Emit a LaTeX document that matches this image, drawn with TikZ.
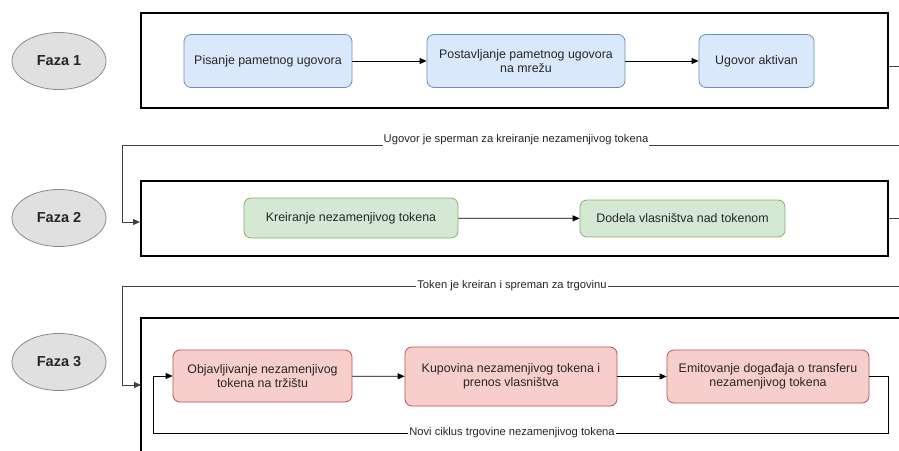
\documentclass[tikz,border=0pt]{standalone}
\usepackage{fontspec}
\setmainfont{Liberation Sans}
\usetikzlibrary{arrows.meta,shapes.geometric}
\definecolor{bfill}{HTML}{DAE8FC}\definecolor{bline}{HTML}{6C8EBF}
\definecolor{gfill}{HTML}{D5E8D4}\definecolor{gline}{HTML}{82B366}
\definecolor{rfill}{HTML}{F8CECC}\definecolor{rline}{HTML}{B85450}
\definecolor{efill}{HTML}{E0E0E0}\definecolor{eline}{HTML}{8A8A8A}
\definecolor{txt}{HTML}{262626}
\tikzset{
  phase/.style={draw=eline, fill=efill, ellipse, minimum width=94pt, minimum height=57pt, font=\bfseries\fontsize{14.5}{16}\selectfont, line width=0.8pt, text=txt},
  stepbox/.style={rounded corners=7pt, line width=0.8pt, align=center, font=\fontsize{12.4}{14.5}\selectfont, inner sep=0pt, text=txt},
  bluebox/.style={stepbox, draw=bline, fill=bfill},
  greenbox/.style={stepbox, draw=gline, fill=gfill},
  redbox/.style={stepbox, draw=rline, fill=rfill},
  frame/.style={draw=black, line width=2pt},
  conn/.style={draw=black, line width=0.8pt, -{Triangle[length=7pt,width=6pt]}},
  plain/.style={draw=black!75, line width=0.8pt},
  lbl/.style={fill=white, inner sep=1pt, font=\fontsize{11.2}{13}\selectfont, text=txt}
}
\begin{document}
\begin{tikzpicture}[x=1pt,y=-1pt]
\useasboundingbox (0,0) rectangle (899,450);
\clip (0,0) rectangle (899,450);
\fill[white] (0,0) rectangle (899,450);
% phase ellipses
\node[phase] (f1) at (59,61) {Faza 1};
\node[phase] (f2) at (59,218) {Faza 2};
\node[phase] (f3) at (59,362) {Faza 3};
% frames
\node[frame, minimum width=747pt, minimum height=95pt, inner sep=0pt] (p1) at (514.5,60.5) {};
\node[frame, minimum width=747pt, minimum height=75pt, inner sep=0pt] (p2) at (514.5,218.5) {};
\draw[frame] (141,460) -- (141,318) -- (910,318);
\coordinate (p3w) at (141,385);
% phase 1 steps
\node[bluebox, minimum width=168pt, minimum height=53pt] (a1) at (268,61) {Pisanje pametnog ugovora};
\node[bluebox, minimum width=198pt, minimum height=53pt] (a2) at (526,61) {Postavljanje pametnog ugovora\\na mrežu};
\node[bluebox, minimum width=115pt, minimum height=53pt] (a3) at (756.5,61) {Ugovor aktivan};
\draw[conn] (a1) -- (a2);
\draw[conn] (a2) -- (a3);
% phase 2 steps
\node[greenbox, minimum width=214pt, minimum height=40pt] (b1) at (351,218) {Kreiranje nezamenjivog tokena};
\node[greenbox, minimum width=205pt, minimum height=37pt] (b2) at (682.5,218.5) {Dodela vlasništva nad tokenom};
\draw[conn] (b1) -- (b2);
% phase 3 steps
\node[redbox, minimum width=179pt, minimum height=52pt] (c1) at (262.5,376) {Objavljivanje nezamenjivog\\tokena na tržištu};
\node[redbox, minimum width=212pt, minimum height=59pt] (c2) at (511,376.5) {Kupovina nezamenjivog tokena i\\prenos vlasništva};
\node[redbox, minimum width=202pt, minimum height=53pt] (c3) at (768,376.5) {Emitovanje događaja o transferu\\nezamenjivog tokena};
\draw[conn] (c1) -- (c2);
\draw[conn] (c2) -- (c3);
% transitions between phases
\coordinate (o1) at (910,66);
\coordinate (o2) at (910,218);
\draw[plain] (p1.east |- 0,66) -- (o1);
\draw[plain] (p2.east |- 0,218) -- (o2);
\draw[conn, draw=black!75] (910,145) -- (122,145) -- (122,222) -- (p2.west |- 0,222);
\node[lbl] (l1) at (516,140) {Ugovor je sperman za kreiranje nezamenjivog tokena};
\draw[conn, draw=black!75] (910,286) -- (122,286) -- (122,385) -- (p3w);
\node[lbl] (l2) at (512,286) {Token je kreiran i spreman za trgovinu};
% loop
\draw[conn] (c3.east) -- (888,376.5) -- (888,433) -- (153,433) -- (153,376) -- (c1.west);
\node[lbl] (l3) at (512,433) {Novi ciklus trgovine nezamenjivog tokena};
\end{tikzpicture}
\end{document}
